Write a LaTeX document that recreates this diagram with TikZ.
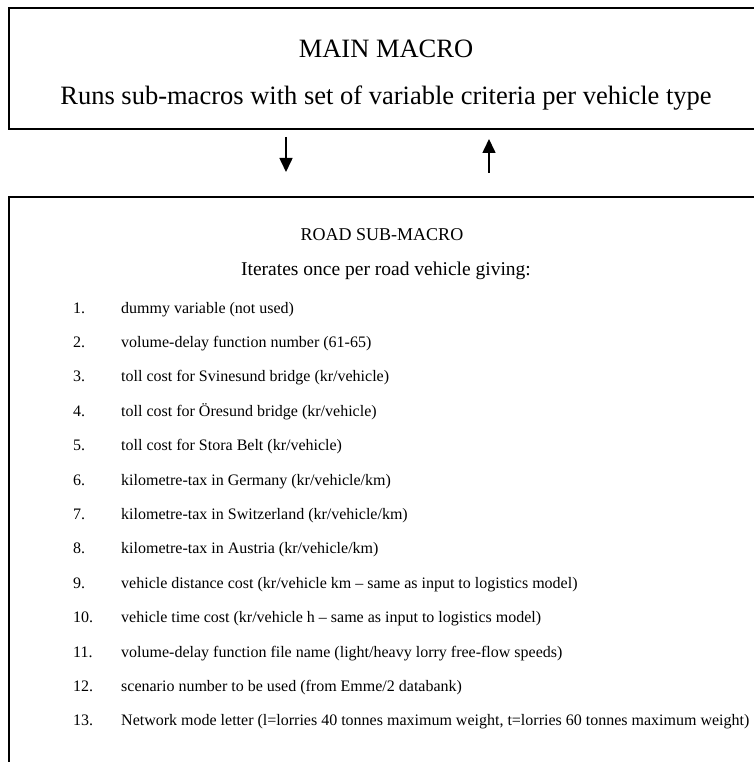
\documentclass[tikz,border=0pt]{standalone}
\usepackage{fontspec}
\setmainfont{Liberation Serif}
\usetikzlibrary{arrows.meta}

\begin{document}
\begin{tikzpicture}[x=1pt,y=-1pt,
  frame/.style={draw,line width=2pt,rectangle,inner sep=0pt,anchor=north west},
  flow/.style={line width=1.6pt,-{Triangle[length=14pt,width=13pt]}},
  bigtext/.style={anchor=base,inner sep=0pt,font=\fontsize{26.5}{30}\selectfont},
  headtext/.style={anchor=base,inner sep=0pt,font=\fontsize{18}{22}\selectfont},
  subtext/.style={anchor=base,inner sep=0pt,font=\fontsize{19.5}{23}\selectfont},
  itemtext/.style={anchor=base west,inner sep=0pt,font=\fontsize{16}{19}\selectfont}]
\useasboundingbox (0,0) rectangle (753,762);

% the two boxes; their right and lower sides run past the page edge
\node[frame,minimum width=800pt,minimum height=121pt] (main) at (8,7) {};
\node[frame,minimum width=800pt,minimum height=600pt] (road) at (8,196) {};

% main macro box text
\node[bigtext] (mainhead) at (386,58) {MAIN MACRO};
\node[bigtext] (mainsub) at (386,105) {Runs sub-macros with set of variable criteria per vehicle type};

% calls down to the sub-macro and back up
\draw[flow] ([shift={(278,7)}]main.south west) -- ([shift={(278,-24)}]road.north west);
\draw[flow] ([shift={(481,-23)}]road.north west) -- ([shift={(481,9)}]main.south west);

% road sub-macro box text
\node[headtext] (roadhead) at (382,240) {ROAD SUB-MACRO};
\node[subtext] (roadsub) at (386,275) {Iterates once per road vehicle giving:};

% numbered list of the variables set per vehicle
\foreach \t [count=\i from 1] in {
  {dummy variable (not used)},
  {volume-delay function number (61-65)},
  {toll cost for Svinesund bridge (kr/vehicle)},
  {toll cost for Öresund bridge (kr/vehicle)},
  {toll cost for Stora Belt (kr/vehicle)},
  {kilometre-tax in Germany (kr/vehicle/km)},
  {kilometre-tax in Switzerland (kr/vehicle/km)},
  {kilometre-tax in Austria (kr/vehicle/km)},
  {vehicle distance cost (kr/vehicle km – same as input to logistics model)},
  {vehicle time cost (kr/vehicle h – same as input to logistics model)},
  {volume-delay function file name (light/heavy lorry free-flow speeds)},
  {scenario number to be used (from Emme/2 databank)},
  {Network mode letter (l=lorries 40 tonnes maximum weight, t=lorries 60 tonnes maximum weight)}
}{
  \node[itemtext] (num\i) at (73,313+34.4*\i-34.4) {\i.};
  \node[itemtext] (item\i) at (121,313+34.4*\i-34.4) {\t};
}
\end{tikzpicture}
\end{document}
